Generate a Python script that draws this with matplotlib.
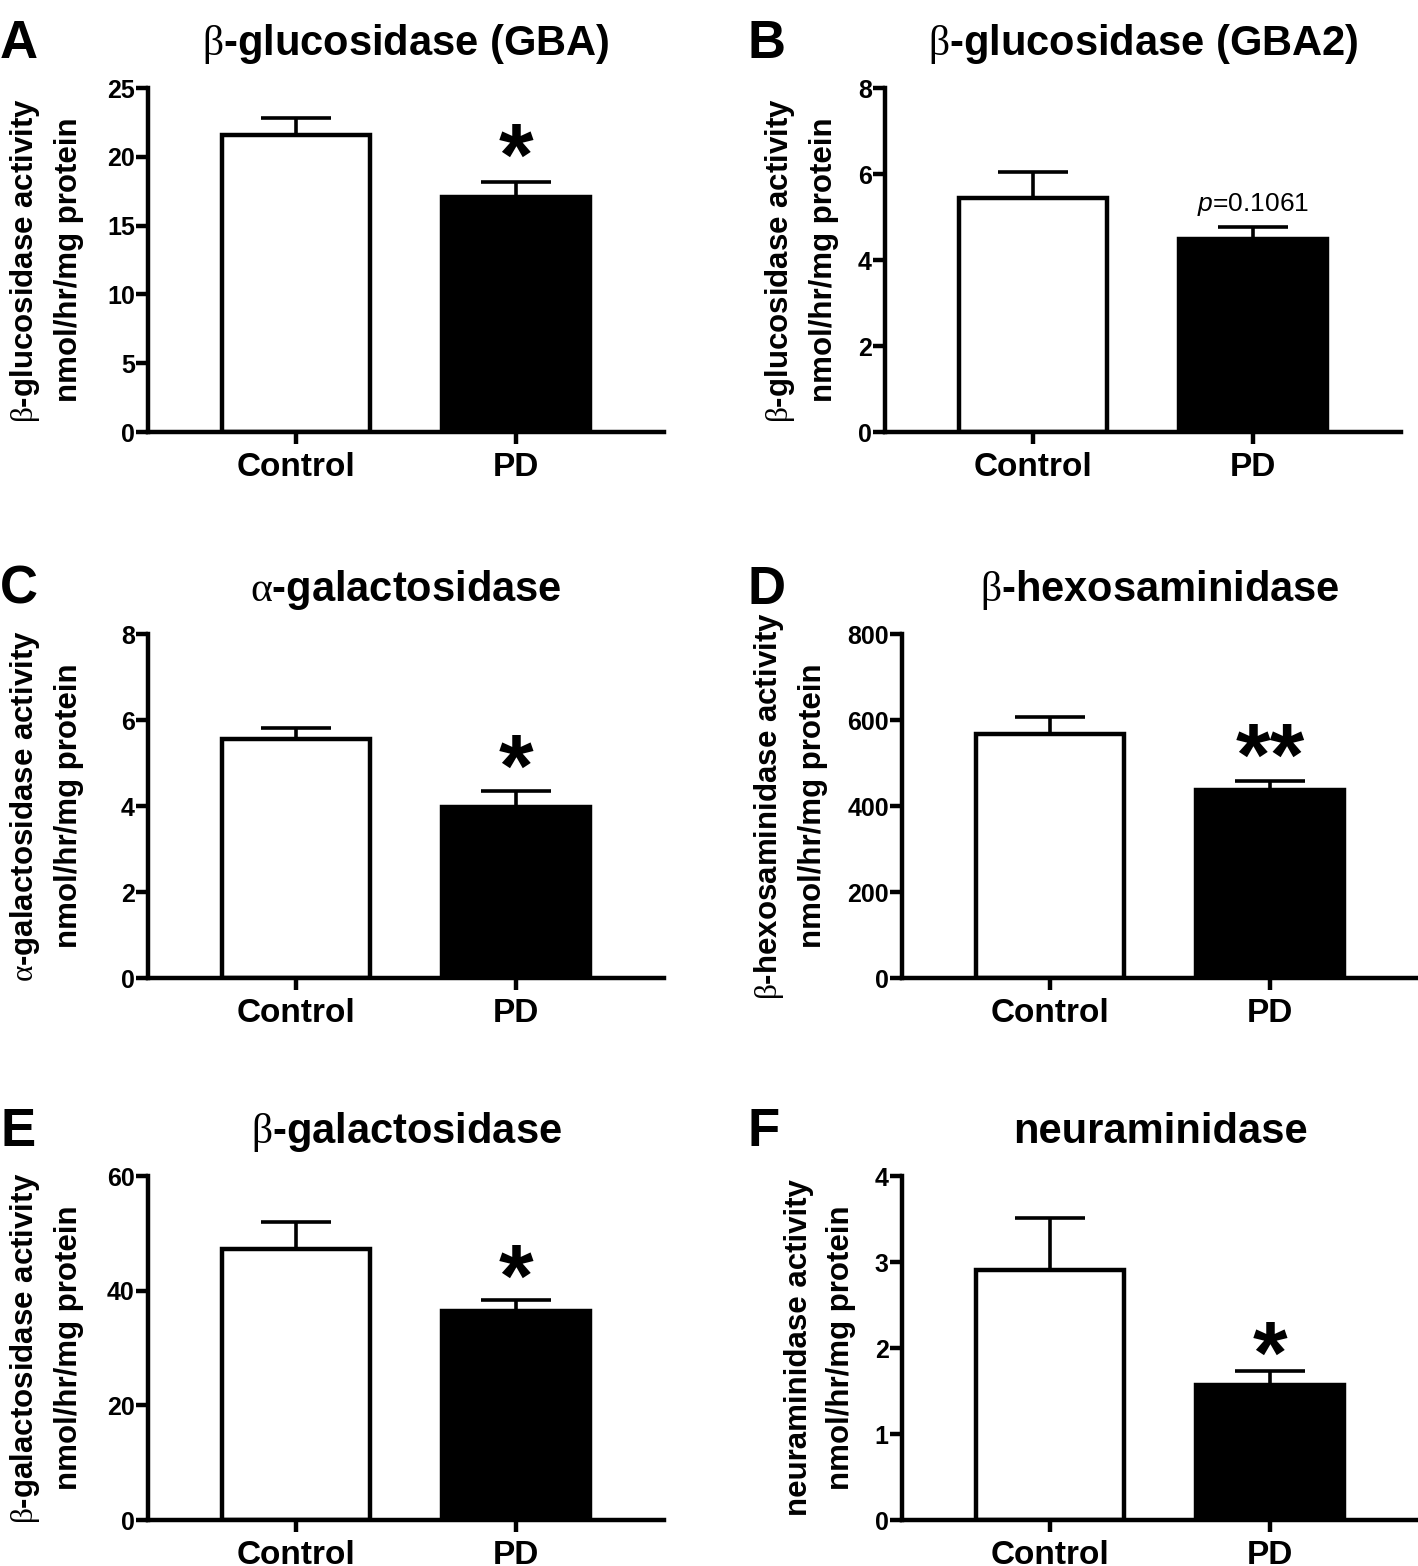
import numpy as np
import matplotlib
matplotlib.use('Agg')
import matplotlib.pyplot as plt

plt.rcParams['font.family'] = ['Liberation Sans', 'DejaVu Sans']
plt.rcParams['mathtext.fontset'] = 'custom'
plt.rcParams['mathtext.rm'] = 'Liberation Serif'
plt.rcParams['mathtext.it'] = 'Liberation Sans:italic'

groups = ['Control', 'PD']

gba_mean = [21.6, 17.1]
gba_sem = [1.2, 1.1]
gba2_mean = [5.45, 4.48]
gba2_sem = [0.6, 0.28]
agal_mean = [5.55, 3.98]
agal_sem = [0.27, 0.38]
hex_mean = [567, 437]
hex_sem = [40, 21]
bgal_mean = [47.3, 36.5]
bgal_sem = [4.6, 1.8]
neu_mean = [2.91, 1.57]
neu_sem = [0.6, 0.16]

gba_ticks = [0, 5, 10, 15, 20, 25]
gba2_ticks = [0, 2, 4, 6, 8]
agal_ticks = [0, 2, 4, 6, 8]
hex_ticks = [0, 200, 400, 600, 800]
bgal_ticks = [0, 20, 40, 60]
neu_ticks = [0, 1, 2, 3, 4]

beta = r'$\mathrm{\beta}$'
alpha = r'$\mathrm{\alpha}$'
unit = 'nmol/hr/mg protein'

W, H = 1418, 1566
LW = 3.2


def panel(fig, letter, left, top, mean, sem, ticks, title, ylab, ylab_off, mark, mark_off):
    ax = fig.add_axes([left / W, 1 - (top + 344) / H, 516 / W, 344 / H])
    x = np.arange(len(groups))
    ax.bar(x, mean, width=0.67, color=['white', 'black'], edgecolor='black',
           linewidth=LW, zorder=2)
    ax.errorbar(x, mean, yerr=[np.zeros(len(sem)), sem], fmt='none', ecolor='black',
                elinewidth=2.6, capsize=25, capthick=2.6, zorder=3)
    ax.set_xlim(-0.674, 1.674)
    ax.set_ylim(0, ticks[-1])
    ax.set_yticks(ticks)
    ax.set_xticks(x)
    ax.set_xticklabels(groups, fontsize=24, fontweight='bold')
    for t in ax.get_yticklabels():
        t.set_fontsize(18)
        t.set_fontweight('bold')
    for s in ['top', 'right']:
        ax.spines[s].set_visible(False)
    for s in ['left', 'bottom']:
        ax.spines[s].set_linewidth(LW)
        ax.spines[s].set_zorder(4)
    ax.tick_params(axis='y', direction='out', length=8.5, width=LW, pad=1)
    ax.tick_params(axis='x', direction='out', length=8.5, width=LW, pad=6)
    ax.set_title(title, fontsize=30, fontweight='bold', pad=24)
    ax.text(ylab_off / 516, 0.5, ylab, transform=ax.transAxes, rotation=90,
            ha='center', va='center', fontsize=22.5, fontweight='bold',
            multialignment='center', linespacing=1.5)
    if mark.startswith('*'):
        ax.annotate(mark, (1, mean[1] + sem[1]), xytext=(0, mark_off),
                    textcoords='offset points', ha='center', va='baseline',
                    fontsize=64, fontweight='bold')
    else:
        ax.annotate(mark, (1, mean[1] + sem[1]), xytext=(0, mark_off),
                    textcoords='offset points', ha='center', va='baseline',
                    fontsize=19)
    lx = 0 if left < 700 else 748
    fig.text(lx / W, 1 - (top - 30) / H, letter,
             ha='left', va='baseline', fontsize=38, fontweight='bold')
    return ax


def main():
    fig = plt.figure(figsize=(W / 100, H / 100), dpi=100)
    panel(fig, 'A', 148, 88, gba_mean, gba_sem, gba_ticks,
          beta + '-glucosidase (GBA)', beta + '-glucosidase activity\n' + unit,
          -102, '*', -2)
    panel(fig, 'B', 885, 88, gba2_mean, gba2_sem, gba2_ticks,
          beta + '-glucosidase (GBA2)', beta + '-glucosidase activity\n' + unit,
          -84, r'$\mathit{p}$=0.1061', 12)
    panel(fig, 'C', 148, 634, agal_mean, agal_sem, agal_ticks,
          alpha + '-galactosidase', alpha + '-galactosidase activity\n' + unit,
          -102, '*', -4)
    panel(fig, 'D', 902, 634, hex_mean, hex_sem, hex_ticks,
          beta + '-hexosaminidase', beta + '-hexosaminidase activity\n' + unit,
          -112, '**', -3)
    panel(fig, 'E', 148, 1176, bgal_mean, bgal_sem, bgal_ticks,
          beta + '-galactosidase', beta + '-galactosidase activity\n' + unit,
          -102, '*', -4)
    panel(fig, 'F', 902, 1176, neu_mean, neu_sem, neu_ticks,
          'neuraminidase', 'neuraminidase activity\n' + unit,
          -82, '*', -8)
    fig.savefig('out.png', dpi=100)


if __name__ == '__main__':
    main()
